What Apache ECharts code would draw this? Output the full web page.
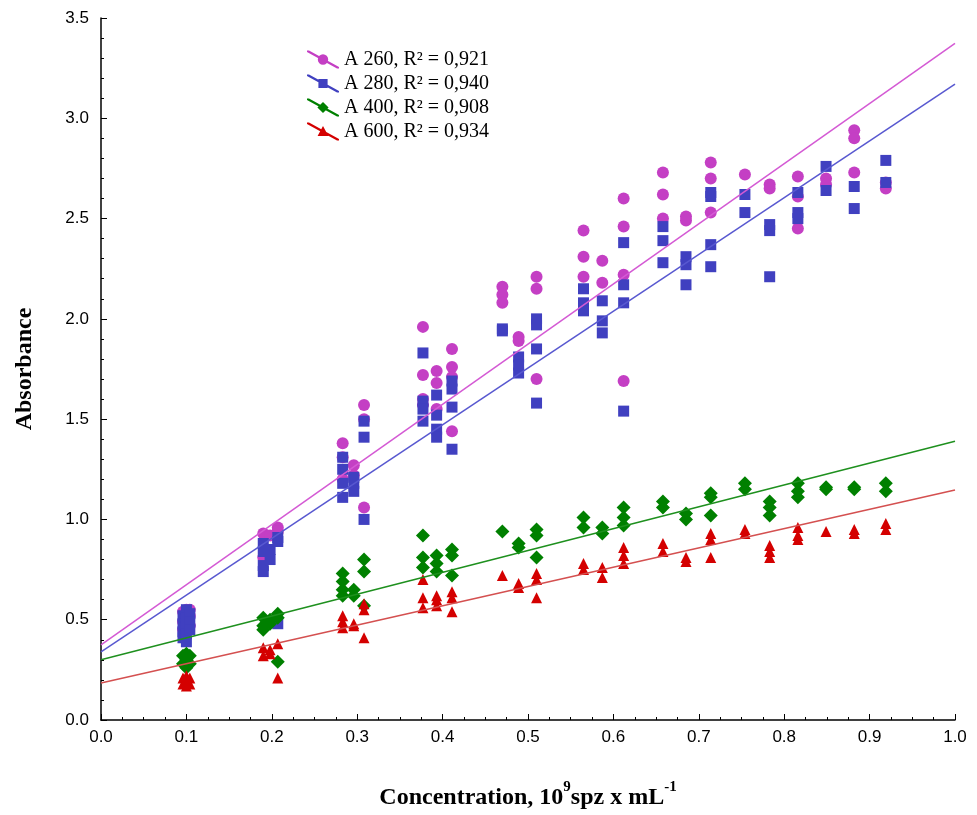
<!DOCTYPE html>
<html>
<head>
<meta charset="utf-8">
<script src="https://cdn.jsdelivr.net/npm/echarts@6/dist/echarts.min.js"></script>
<style>html,body{margin:0;padding:0;background:#fff;}#c{width:977px;height:815px;}</style>
</head>
<body>
<div id="c"></div>
<script>
// Concentration levels (10^9 spz / mL)
const xLevels = [0.096, 0.100, 0.104, 0.190, 0.198, 0.207, 0.283, 0.296, 0.308, 0.377, 0.393, 0.411, 0.470, 0.489, 0.510, 0.565, 0.587, 0.612, 0.658, 0.685, 0.714, 0.754, 0.783, 0.816, 0.849, 0.882, 0.919];

// Absorbance readings at each level
const a260 = [
  [0.54, 0.49, 0.45], [0.55, 0.50], [0.55, 0.52, 0.47],
  [0.93, 0.81], [0.92], [0.96, 0.94],
  [1.38, 1.31, 1.20], [1.27, 1.22], [1.57, 1.50, 1.06],
  [1.96, 1.72, 1.60, 1.57], [1.74, 1.68, 1.55], [1.85, 1.76, 1.71, 1.44],
  [2.16, 2.12, 2.08], [1.91, 1.89], [2.21, 2.15, 1.70],
  [2.44, 2.31, 2.21], [2.29, 2.18], [2.60, 2.46, 2.22, 1.69],
  [2.73, 2.62, 2.50], [2.51, 2.49], [2.78, 2.70, 2.53],
  [2.72], [2.67, 2.65], [2.71, 2.61, 2.45],
  [2.70, 2.67], [2.94, 2.90, 2.73], [2.68, 2.65]
];
const a280 = [
  [0.52, 0.48, 0.44, 0.41], [0.55, 0.51, 0.47, 0.43, 0.39], [0.53, 0.49, 0.45],
  [0.88, 0.84, 0.77, 0.74], [0.85, 0.80], [0.91, 0.89, 0.48],
  [1.31, 1.25, 1.18, 1.11], [1.21, 1.18, 1.14], [1.49, 1.41, 1.00],
  [1.83, 1.59, 1.55, 1.49], [1.62, 1.52, 1.45, 1.41], [1.69, 1.65, 1.56, 1.35],
  [1.95, 1.94], [1.81, 1.77, 1.73], [2.00, 1.97, 1.85, 1.58],
  [2.15, 2.08, 2.04], [2.09, 1.99, 1.93], [2.38, 2.17, 2.08, 1.54],
  [2.46, 2.39, 2.28], [2.31, 2.27, 2.17], [2.63, 2.61, 2.37, 2.26],
  [2.62, 2.53], [2.47, 2.44, 2.21], [2.63, 2.53, 2.50],
  [2.76, 2.64], [2.66, 2.55], [2.79, 2.68]
];
const a400 = [
  [0.32, 0.28], [0.33, 0.30, 0.26], [0.32, 0.28],
  [0.51, 0.47, 0.45], [0.50, 0.48], [0.53, 0.51, 0.29],
  [0.73, 0.69, 0.65, 0.62], [0.65, 0.62], [0.80, 0.74, 0.57],
  [0.92, 0.81, 0.76], [0.82, 0.78, 0.74], [0.85, 0.82, 0.72],
  [0.94], [0.88, 0.86], [0.95, 0.92, 0.81],
  [1.01, 0.96], [0.96, 0.93], [1.06, 1.01, 0.97],
  [1.09, 1.06], [1.03, 1.00], [1.13, 1.11, 1.02],
  [1.18, 1.15], [1.09, 1.06, 1.02], [1.18, 1.14, 1.11],
  [1.16, 1.15], [1.16, 1.15], [1.18, 1.14]
];
const a600 = [
  [0.21, 0.18], [0.22, 0.19, 0.17], [0.21, 0.18],
  [0.36, 0.32], [0.35, 0.33], [0.38, 0.21],
  [0.52, 0.49, 0.46], [0.48, 0.47], [0.58, 0.55, 0.41],
  [0.70, 0.61, 0.56], [0.62, 0.60, 0.57], [0.64, 0.61, 0.54],
  [0.72], [0.68, 0.66], [0.73, 0.70, 0.61],
  [0.78, 0.75], [0.76, 0.71], [0.86, 0.82, 0.78],
  [0.88, 0.84], [0.81, 0.79], [0.93, 0.90, 0.81],
  [0.95, 0.93], [0.87, 0.84, 0.81], [0.96, 0.92, 0.90],
  [0.94], [0.95, 0.93], [0.98, 0.95]
];

const seriesNames = ['A 260', 'A 280', 'A 400', 'A 600'];
const r2Values = ['0,921', '0,940', '0,908', '0,934'];
const fitIntercepts = [0.374, 0.340, 0.300, 0.185];
const fitSlopes = [3.000, 2.830, 1.090, 0.962];
const xTicks = [0.0, 0.1, 0.2, 0.3, 0.4, 0.5, 0.6, 0.7, 0.8, 0.9, 1.0];
const yTicks = [0.0, 0.5, 1.0, 1.5, 2.0, 2.5, 3.0, 3.5];

const markerColors = ['#c43fc4', '#4040c0', '#008000', '#d40000'];
const lineColors = ['#d45ad4', '#5858d0', '#1e901e', '#d45050'];
const symbols = ['circle', 'rect', 'diamond', 'triangle'];
const symbolSizes = [12, 11, 14, 11];
const legendIcons = [
  'path://M0,0 L2,0 L32,16.6 L32,18 L30,18 L0,1.4 Z M21.2,9 A5.2,5.2 0 1,1 10.8,9 A5.2,5.2 0 1,1 21.2,9 Z',
  'path://M0,0 L2,0 L32,16.6 L32,18 L30,18 L0,1.4 Z M11.4,4.4 L20.6,4.4 L20.6,13.6 L11.4,13.6 Z',
  'path://M0,0 L2,0 L32,16.6 L32,18 L30,18 L0,1.4 Z M16,3.4 L21.6,9 L16,14.6 L10.4,9 Z',
  'path://M0,0 L2,0 L32,16.6 L32,18 L30,18 L0,1.4 Z M16,3.6 L21.4,13.4 L10.6,13.4 Z'
];

function toPoints(arr) {
  const pts = [];
  arr.forEach((vals, i) => vals.forEach(v => pts.push([xLevels[i], v])));
  return pts;
}
const allData = [a260, a280, a400, a600];

const series = [];
allData.forEach((d, k) => {
  series.push({
    name: seriesNames[k],
    type: 'scatter',
    symbol: symbols[k],
    symbolSize: symbolSizes[k],
    itemStyle: { color: markerColors[k], opacity: 1 },
    data: toPoints(d),
    z: 2 + k
  });
});
allData.forEach((d, k) => {
  series.push({
    name: seriesNames[k] + ' fit',
    type: 'line',
    showSymbol: false,
    silent: true,
    lineStyle: { color: lineColors[k], width: 1.5 },
    data: [[xTicks[0], fitIntercepts[k] + fitSlopes[k] * xTicks[0]],
           [xTicks[xTicks.length - 1], fitIntercepts[k] + fitSlopes[k] * xTicks[xTicks.length - 1]]],
    z: 10
  });
});

const tickFont = "'Liberation Sans Narrow', 'Arial Narrow', 'Liberation Sans', Arial, sans-serif";
const titleFont = "'Liberation Serif', 'Times New Roman', serif";

const chart = echarts.init(document.getElementById('c'), null, { renderer: 'canvas' });
chart.setOption({
  backgroundColor: '#ffffff',
  animation: false,
  grid: { left: 101, right: 22, top: 18, bottom: 95, containLabel: false },
  legend: {
    orient: 'vertical',
    left: 302,
    top: 44,
    itemWidth: 32,
    itemHeight: 18,
    itemGap: 3,
    data: seriesNames.map((n, k) => ({ name: n, icon: legendIcons[k] })),
    formatter: n => n + ', R² = ' + r2Values[seriesNames.indexOf(n)],
    textStyle: { fontFamily: titleFont, fontSize: 20, color: '#000', lineHeight: 21 }
  },
  xAxis: {
    type: 'value',
    min: xTicks[0],
    max: xTicks[xTicks.length - 1],
    interval: 0.1,
    name: '{b|Concentration, 10}{s|9}{b|spz x mL}{s|-1}',
    nameLocation: 'middle',
    nameGap: 60,
    nameTextStyle: {
      rich: {
        b: { fontFamily: titleFont, fontWeight: 'bold', fontSize: 24, color: '#000', lineHeight: 30, verticalAlign: 'bottom' },
        s: { fontFamily: titleFont, fontWeight: 'bold', fontSize: 15, color: '#000', lineHeight: 30, verticalAlign: 'top', padding: [0, 0, 6, 0] }
      }
    },
    axisLine: { show: true, lineStyle: { color: '#000', width: 1.5 } },
    axisTick: { show: true, inside: true, length: 6, lineStyle: { color: '#000', width: 1 } },
    minorTick: { show: true, splitNumber: 4, length: 3, lineStyle: { color: '#000', width: 1 } },
    splitLine: { show: false },
    axisLabel: { fontFamily: tickFont, fontSize: 17, color: '#000', margin: 9, formatter: v => v.toFixed(1) }
  },
  yAxis: {
    type: 'value',
    min: yTicks[0],
    max: yTicks[yTicks.length - 1],
    interval: 0.5,
    name: 'Absorbance',
    nameLocation: 'middle',
    nameGap: 64,
    nameTextStyle: { fontFamily: titleFont, fontWeight: 'bold', fontSize: 24, color: '#000' },
    axisLine: { show: true, lineStyle: { color: '#000', width: 1.5 } },
    axisTick: { show: true, inside: true, length: 6, lineStyle: { color: '#000', width: 1 } },
    minorTick: { show: true, splitNumber: 5, length: 3, lineStyle: { color: '#000', width: 1 } },
    splitLine: { show: false },
    axisLabel: { fontFamily: tickFont, fontSize: 17, color: '#000', margin: 12, formatter: v => v.toFixed(1) }
  },
  series: series
});
</script>
</body>
</html>
